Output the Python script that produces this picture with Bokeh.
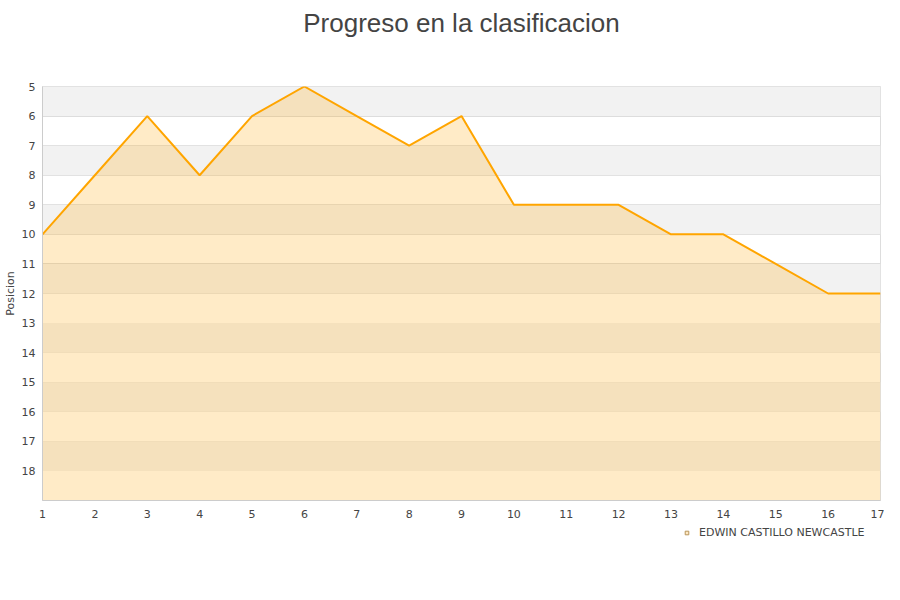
from bokeh.plotting import figure
from bokeh.layouts import column
from bokeh.models import Range1d, Legend, LegendItem, ColumnDataSource, FixedTicker, Title, BoxAnnotation
from bokeh.embed import file_html
from bokeh.resources import INLINE

jornadas = list(range(1, 18))
posicion = [10, 8, 6, 8, 6, 5, 6, 7, 6, 9, 9, 9, 10, 10, 11, 12, 12]
equipo = "EDWIN CASTILLO NEWCASTLE"
titulo = "Progreso en la clasificacion"
y_ticks = list(range(5, 19))
fondo = [19] * len(jornadas)

src = ColumnDataSource(dict(x=jornadas, y=posicion, base=fondo))

p = figure(width=884, height=522, output_backend="svg", toolbar_location=None,
           x_range=Range1d(1, 17), y_range=Range1d(19, 5),
           min_border_left=30, min_border_right=4, min_border_top=78, min_border_bottom=22)
p.title.text = titulo
p.title.align = "center"
p.title.text_font = "Liberation Sans"
p.title.text_font_size = "26px"
p.title.text_font_style = "normal"
p.title.text_color = "#444444"
# spacer between title and plot area
p.add_layout(Title(text=" ", text_font_size="29px"), "above")

p.outline_line_color = "#dddddd"
p.background_fill_color = "white"

for t in y_ticks[::2]:
    p.add_layout(BoxAnnotation(top=t, bottom=t + 1, fill_color="#f2f2f2", fill_alpha=1,
                               line_color=None, level="underlay"))

p.ygrid.ticker = FixedTicker(ticks=list(range(5, 20)))
p.ygrid.grid_line_color = "#dddddd"
p.xgrid.grid_line_color = None

p.yaxis.ticker = FixedTicker(ticks=y_ticks)
p.xaxis.ticker = FixedTicker(ticks=jornadas)
for ax in (p.xaxis, p.yaxis):
    ax.axis_line_color = "#cccccc"
    ax.major_tick_line_color = None
    ax.minor_tick_line_color = None
    ax.major_tick_out = 0
    ax.major_tick_in = 0
    ax.major_label_text_font = "DejaVu Sans"
    ax.major_label_text_font_size = "11px"
    ax.major_label_text_color = "#444444"
p.yaxis.major_label_standoff = 7
p.xaxis.major_label_standoff = 9
p.yaxis.axis_label = "Posicion"
p.yaxis.axis_label_text_font = "DejaVu Sans"
p.yaxis.axis_label_text_font_size = "11px"
p.yaxis.axis_label_text_font_style = "normal"
p.yaxis.axis_label_text_color = "#444444"
p.yaxis.axis_label_standoff = 2

p.varea(x="x", y1="y", y2="base", source=src, fill_color="#ffa500", fill_alpha=0.22)
p.line(x="x", y="y", source=src, line_color="#ffa500", line_width=2)

# legend strip below the chart (proxy glyph sits outside the strip's visible range)
lf = figure(width=884, height=40, output_backend="svg", toolbar_location=None,
            x_range=Range1d(0, 1), y_range=Range1d(0, 1),
            x_axis_location=None, y_axis_location=None,
            min_border_left=0, min_border_right=0, min_border_top=0, min_border_bottom=0)
lf.outline_line_color = None
lf.xgrid.grid_line_color = None
lf.ygrid.grid_line_color = None
proxy = lf.scatter(x=[-5], y=[-5], marker="square", size=9,
                   fill_color="#ffe9c4", line_color="#b8955a")
legend = Legend(items=[LegendItem(label=equipo, renderers=[proxy])], location=(640, 23),
                orientation="horizontal",
                border_line_color=None, background_fill_alpha=0,
                label_text_font="DejaVu Sans", label_text_font_size="11px",
                label_standoff=8, glyph_width=9, glyph_height=9, padding=0, margin=0)
lf.add_layout(legend, "center")

open("out.html", "w").write(file_html(column(p, lf, spacing=0), INLINE))
